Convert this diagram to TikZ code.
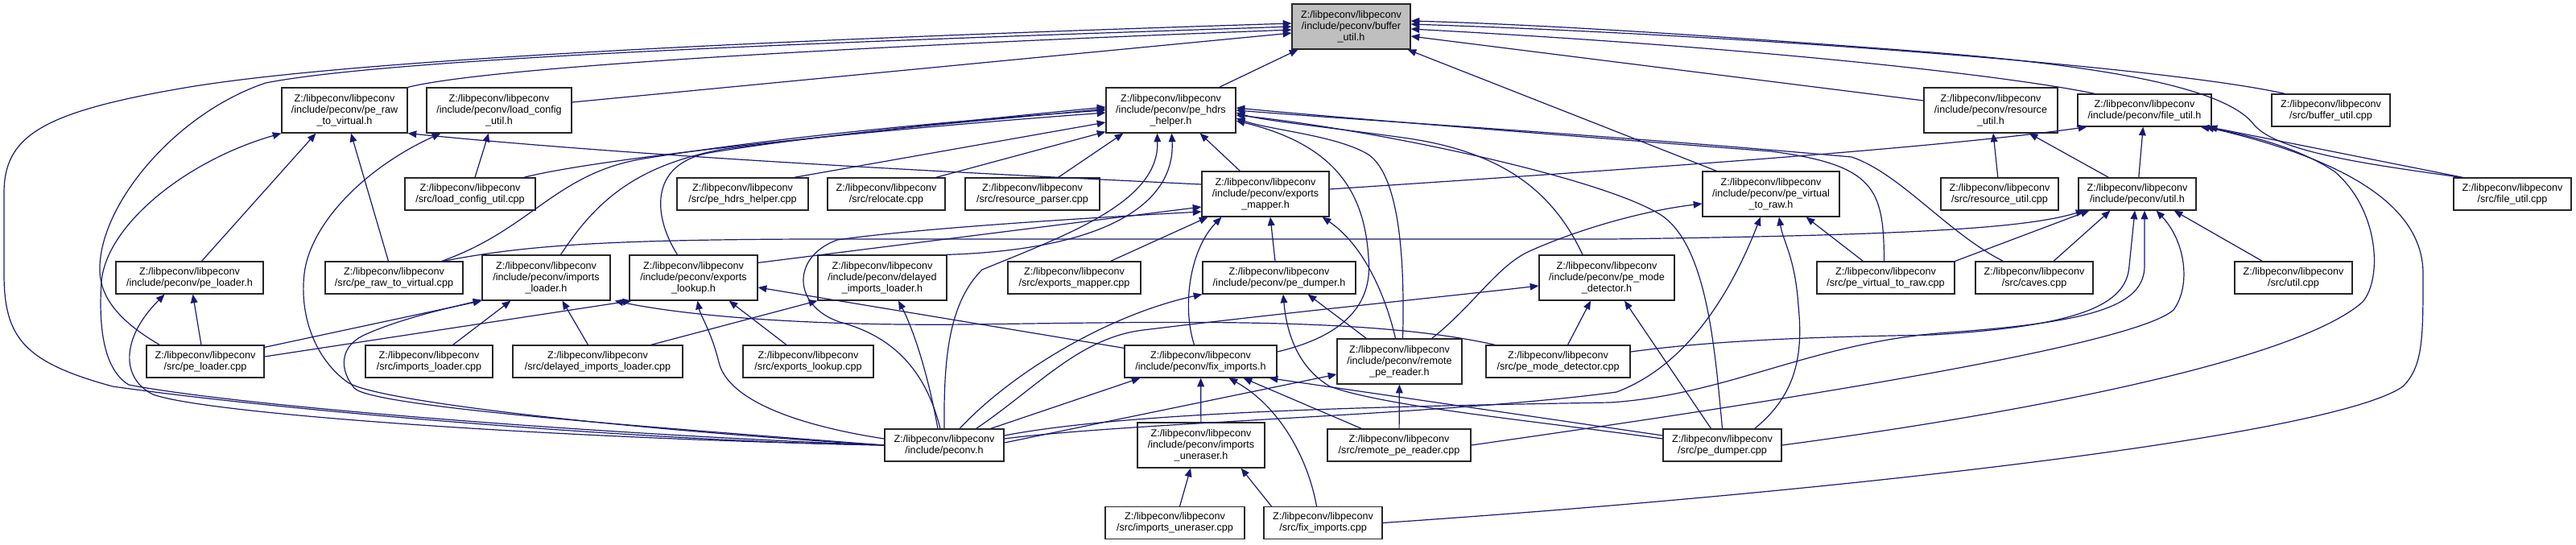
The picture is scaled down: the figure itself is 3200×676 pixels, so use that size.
\documentclass[tikz,border=0pt]{standalone}
\usepackage{fontspec}
\setmainfont{Liberation Sans}
\usetikzlibrary{arrows.meta,calc}
\definecolor{edgec}{RGB}{25,25,112}
\definecolor{boxgray}{RGB}{191,191,191}
\newcommand\zpre{Z:/libpeconv/libpeconv}
\newcommand\dnode[6]{\node[dbox,minimum width=#4*0.75pt,minimum height=#5*0.75pt] (#1) at (#2,#3) {#6};}
\tikzset{
  dbox/.style={draw=black!85, line width=0.9pt, fill=white, inner sep=0pt, align=center,
    font=\fontsize{9.45}{10.5}\selectfont},
  dep/.style={draw=edgec, line width=0.9pt, -{Triangle[length=8pt,width=6.5pt]}}
}
\begin{document}
\begin{tikzpicture}[x=0.75pt,y=-0.75pt]
\fill[white] (0,0) rectangle (3200,676);
\useasboundingbox (0,0) rectangle (3200,676);
% ---------- nodes ----------
\node[dbox,fill=boxgray,minimum width=147*0.75pt,minimum height=56*0.75pt] (bufh) at (1678.5,33) {\zpre\\/include/peconv/buffer\\\_util.h};
\dnode{rawtovh}{428}{137}{156}{56}{\zpre\\/include/peconv/pe\_raw\\\_to\_virtual.h}
\dnode{lcuh}{620}{137}{180}{56}{\zpre\\/include/peconv/load\_config\\\_util.h}
\dnode{hdrsh}{1454.5}{137}{161}{56}{\zpre\\/include/peconv/pe\_hdrs\\\_helper.h}
\dnode{resuh}{2473}{137}{166}{56}{\zpre\\/include/peconv/resource\\\_util.h}
\dnode{fileuh}{2664}{137}{166}{40}{\zpre\\/include/peconv/file\_util.h}
\dnode{bufcpp}{2895.5}{137}{147}{40}{\zpre\\/src/buffer\_util.cpp}
\dnode{lcucpp}{584}{241}{162}{40}{\zpre\\/src/load\_config\_util.cpp}
\dnode{hdrscpp}{922.5}{241}{163}{40}{\zpre\\/src/pe\_hdrs\_helper.cpp}
\dnode{reloccpp}{1101}{241}{146}{40}{\zpre\\/src/relocate.cpp}
\dnode{resparcpp}{1282.5}{241}{167}{40}{\zpre\\/src/resource\_parser.cpp}
\dnode{expmaph}{1572}{241}{158}{56}{\zpre\\/include/peconv/exports\\\_mapper.h}
\dnode{vtorawh}{2200}{241}{170}{56}{\zpre\\/include/peconv/pe\_virtual\\\_to\_raw.h}
\dnode{resucpp}{2484}{241}{146}{40}{\zpre\\/src/resource\_util.cpp}
\dnode{utilh}{2655}{241}{146}{40}{\zpre\\/include/peconv/util.h}
\dnode{fileucpp}{3121}{241}{146}{40}{\zpre\\/src/file\_util.cpp}
\dnode{loaderh}{235.5}{345}{183}{40}{\zpre\\/include/peconv/pe\_loader.h}
\dnode{rawtovcpp}{489.5}{345}{171}{40}{\zpre\\/src/pe\_raw\_to\_virtual.cpp}
\dnode{imploh}{678.5}{345}{159}{56}{\zpre\\/include/peconv/imports\\\_loader.h}
\dnode{explkh}{861.5}{345}{159}{56}{\zpre\\/include/peconv/exports\\\_lookup.h}
\dnode{dimph}{1096}{345}{160}{56}{\zpre\\/include/peconv/delayed\\\_imports\_loader.h}
\dnode{expmapcpp}{1334.5}{345}{165}{40}{\zpre\\/src/exports\_mapper.cpp}
\dnode{dumperh}{1589}{345}{190}{40}{\zpre\\/include/peconv/pe\_dumper.h}
\dnode{modeh}{1996}{345}{168}{56}{\zpre\\/include/peconv/pe\_mode\\\_detector.h}
\dnode{vtorawcpp}{2342.5}{345}{171}{40}{\zpre\\/src/pe\_virtual\_to\_raw.cpp}
\dnode{cavescpp}{2527}{345}{146}{40}{\zpre\\/src/caves.cpp}
\dnode{utilcpp}{2849}{345}{146}{40}{\zpre\\/src/util.cpp}
\dnode{loadercpp}{255}{449}{146}{40}{\zpre\\/src/pe\_loader.cpp}
\dnode{implocpp}{533}{449}{158}{40}{\zpre\\/src/imports\_loader.cpp}
\dnode{dimpcpp}{742.5}{449}{211}{40}{\zpre\\/src/delayed\_imports\_loader.cpp}
\dnode{explkcpp}{1004}{449}{162}{40}{\zpre\\/src/exports\_lookup.cpp}
\dnode{fixh}{1491.5}{449}{189}{40}{\zpre\\/include/peconv/fix\_imports.h}
\dnode{remoteh}{1738.5}{449}{155}{56}{\zpre\\/include/peconv/remote\\\_pe\_reader.h}
\dnode{modecpp}{1935.5}{449}{179}{40}{\zpre\\/src/pe\_mode\_detector.cpp}
\dnode{peconvh}{1173}{553}{148}{40}{\zpre\\/include/peconv.h}
\dnode{unerh}{1492}{553}{158}{56}{\zpre\\/include/peconv/imports\\\_uneraser.h}
\dnode{remotecpp}{1738}{553}{178}{40}{\zpre\\/src/remote\_pe\_reader.cpp}
\dnode{dumpercpp}{2139.5}{553}{147}{40}{\zpre\\/src/pe\_dumper.cpp}
\dnode{unercpp}{1459.5}{649.5}{173}{40}{\zpre\\/src/imports\_uneraser.cpp}
\dnode{fixcpp}{1643.5}{649.5}{147}{40}{\zpre\\/src/fix\_imports.cpp}
% ---------- edges into buffer_util.h ----------
\draw[dep] (peconvh.west) .. controls (800,548) and (350,510) .. (140,480) .. controls (30,450) and (5,420) .. (5,340) -- (5,240) .. controls (5,170) and (50,140) .. (224,110) .. controls (450,70) and (1100,45) .. ($(bufh.west)+(0,-4)$);
\draw[dep] ($(loadercpp.north west)+(17,0)$) .. controls (150,400) and (122,370) .. (124,330) .. controls (127,250) and (220,140) .. (330,103) .. controls (500,70) and (1100,50) .. (bufh.west);
\draw[dep] (rawtovh.north east) .. controls (600,85) and (1000,60) .. ($(bufh.west)+(0,4)$);
\draw[dep] ($(lcuh.east)+(0,-10)$) -- ($(bufh.west)+(0,8)$);
\draw[dep] ($(hdrsh.north)+(60,0)$) -- ($(bufh.south west)+(8,0)$);
\draw[dep] ($(vtorawh.north west)+(18,0)$) -- ($(bufh.south east)+(-4,0)$);
\draw[dep] ($(resuh.west)+(0,-12)$) -- ($(bufh.east)+(0,12)$);
\draw[dep] ($(fileuh.north west)+(22,0)$) .. controls (2500,95) and (2200,60) .. ($(bufh.east)+(0,3)$);
\draw[dep] ($(bufcpp.north west)+(17,0)$) .. controls (2700,85) and (2200,45) .. ($(bufh.east)+(0,-3)$);
\draw[dep] ($(fileucpp.north west)+(10,0)$) .. controls (2950,205) and (2830,190) .. (2800,155) .. controls (2770,115) and (2650,85) .. (2400,65) .. controls (2100,42) and (1900,30) .. ($(bufh.east)+(0,-7)$);
% ---------- resource_util.h, util.h, file_util.h ----------
\draw[dep] (resucpp) -- (resuh);
\draw[dep] ($(utilh.north west)+(38,0)$) -- ($(resuh.south east)+(-36,0)$);
\draw[dep] (utilh) -- (fileuh);
\draw[dep] ($(fileucpp.north west)+(12,0)$) -- ($(fileuh.south east)+(-4,0)$);
\draw[dep] ($(expmaph.east)+(0,-6)$) .. controls (2000,212) and (2400,185) .. ($(fileuh.south west)+(12,0)$);
\draw[dep] (dumpercpp.east) .. controls (2500,515) and (2850,450) .. (2935,375) .. controls (2960,345) and (2955,260) .. (2900,213) .. controls (2850,180) and (2780,165) .. ($(fileuh.south east)+(-14,0)$);
\draw[dep] (fixcpp.east) .. controls (2300,610) and (2900,540) .. (2985,480) .. controls (3010,455) and (3010,420) .. (3010,340) .. controls (3010,250) and (2900,195) .. ($(fileuh.south east)+(-8,0)$);
% ---------- edges into pe_hdrs_helper.h ----------
\draw[dep] ($(hdrscpp.north)+(64,0)$) -- ($(hdrsh.west)+(0,15)$);
\draw[dep] ($(reloccpp.north east)+(-12,0)$) -- ($(hdrsh.south west)+(0,-2)$);
\draw[dep] ($(resparcpp.north)+(32,0)$) -- ($(hdrsh.south west)+(22,0)$);
\draw[dep] ($(expmaph.north west)+(48,0)$) -- ($(hdrsh.south east)+(-45,0)$);
\draw[dep] ($(lcucpp.north east)+(-15,0)$) .. controls (750,195) and (1100,160) .. ($(hdrsh.west)+(0,3)$);
\draw[dep] ($(rawtovcpp.north east)+(-27,0)$) .. controls (660,285) and (690,215) .. (800,197) .. controls (1000,165) and (1250,145) .. (hdrsh.west);
\draw[dep] ($(imploh.north)+(18,0)$) .. controls (740,250) and (790,205) .. (900,185) .. controls (1100,160) and (1250,145) .. ($(hdrsh.west)+(0,-4)$);
\draw[dep] ($(explkh.north)+(-20,0)$) .. controls (812,270) and (805,205) .. (880,190) .. controls (1050,162) and (1250,148) .. ($(hdrsh.west)+(0,-2)$);
\draw[dep] (peconvh.north) .. controls (1172,440) and (1180,375) .. (1220,335) .. controls (1330,290) and (1440,250) .. ($(hdrsh.south)+(-17,0)$);
\draw[dep] ($(dimph.north east)+(-2,0)$) .. controls (1380,310) and (1460,250) .. ($(hdrsh.south)+(1,0)$);
\draw[dep] ($(vtorawcpp.north)+(-2,0)$) .. controls (2340,235) and (2330,205) .. (2200,188) .. controls (1900,165) and (1650,145) .. ($(hdrsh.east)+(0,-3)$);
\draw[dep] ($(cavescpp.north west)+(35,0)$) .. controls (2420,290) and (2360,215) .. (2300,195) .. controls (2000,168) and (1700,150) .. ($(hdrsh.east)+(0,0)$);
\draw[dep] ($(modeh.north)+(-30,0)$) .. controls (1930,240) and (1870,190) .. (1750,172) .. controls (1650,158) and (1570,150) .. ($(hdrsh.east)+(0,3)$);
\draw[dep] (dumpercpp.north) .. controls (2130,430) and (2120,300) .. (2060,265) .. controls (1980,218) and (1700,160) .. ($(hdrsh.east)+(0,6)$);
\draw[dep] ($(remoteh.north)+(4,0)$) .. controls (1745,330) and (1740,220) .. (1700,192) .. controls (1660,168) and (1580,162) .. ($(hdrsh.east)+(0,10)$);
\draw[dep] ($(fixh.east)+(0,-12)$) .. controls (1680,415) and (1705,370) .. (1700,320) .. controls (1695,240) and (1660,180) .. ($(hdrsh.east)+(0,13)$);
% ---------- pe_raw_to_virtual.h, load_config_util.h, pe_loader.h ----------
\draw[dep] (peconvh.west) .. controls (750,540) and (300,505) .. (160,478) .. controls (130,460) and (122,410) .. (126,350) .. controls (132,280) and (230,200) .. (rawtovh.south west);
\draw[dep] ($(loaderh.north)+(15,0)$) -- ($(rawtovh.south west)+(43,0)$);
\draw[dep] ($(rawtovcpp.north)+(-7,0)$) -- ($(rawtovh.south)+(8,0)$);
\draw[dep] ($(expmaph.west)+(0,-12)$) .. controls (1200,215) and (800,195) .. (rawtovh.south east);
\draw[dep] ($(lcucpp.north)+(6,0)$) -- ($(lcuh.south)+(-13,0)$);
\draw[dep] (peconvh.west) .. controls (800,535) and (470,500) .. (432,475) .. controls (390,445) and (372,390) .. (378,340) .. controls (385,280) and (450,210) .. ($(lcuh.south west)+(18,0)$);
\draw[dep] ($(loadercpp.north)+(-5,0)$) -- ($(loaderh.south)+(4,0)$);
\draw[dep] (peconvh.west) .. controls (700,545) and (260,515) .. (190,490) .. controls (150,470) and (150,420) .. ($(loaderh.south)+(-31,0)$);
% ---------- imports_loader.h, exports_lookup.h, delayed ----------
\draw[dep] ($(loadercpp.north east)+(0,3)$) -- (imploh.south west);
\draw[dep] (peconvh.west) .. controls (800,530) and (460,505) .. (440,482) .. controls (422,460) and (420,430) .. (455,415) .. controls (500,395) and (560,382) .. ($(imploh.south west)+(0,-1)$);
\draw[dep] ($(implocpp.north east)+(-50,0)$) -- ($(imploh.south west)+(36,0)$);
\draw[dep] ($(dimpcpp.north)+(-12,0)$) -- ($(imploh.south)+(20,0)$);
\draw[dep] ($(modecpp.north west)+(12,0)$) .. controls (1700,393) and (1450,400) .. (1200,403) .. controls (1000,405) and (850,392) .. ($(imploh.south east)+(5,0)$);
\draw[dep] ($(loadercpp.east)+(0,-6)$) -- ($(explkh.south west)+(3,0)$);
\draw[dep] ($(explkcpp.north)+(-27,0)$) -- ($(explkh.south east)+(-36,0)$);
\draw[dep] ($(fixh.north west)+(0,4)$) -- ($(explkh.east)+(0,12)$);
\draw[dep] ($(peconvh.west)+(0,-8)$) .. controls (1000,530) and (905,500) .. (893,450) .. controls (883,410) and (870,392) .. ($(explkh.south)+(5,0)$);
\draw[dep] ($(peconvh.north)+(-8,0)$) .. controls (1150,450) and (1130,400) .. ($(dimph.south)+(20,0)$);
\draw[dep] ($(dimpcpp.north east)+(-40,0)$) -- (dimph.south west);
% ---------- exports_mapper.h ----------
\draw[dep] ($(explkh.north east)+(0,10)$) -- ($(expmaph.west)+(0,16)$);
\draw[dep] ($(peconvh.north)+(-5,0)$) .. controls (1150,460) and (1110,420) .. (1050,402) .. controls (985,385) and (980,320) .. (1040,298) .. controls (1150,282) and (1400,268) .. ($(expmaph.west)+(0,22)$);
\draw[dep] ($(expmapcpp.north east)+(-38,0)$) -- ($(expmaph.south west)+(8,0)$);
\draw[dep] ($(fixh.north)+(-8,0)$) .. controls (1468,380) and (1478,310) .. ($(expmaph.south west)+(25,0)$);
\draw[dep] ($(dumperh.north)+(-5,0)$) -- ($(expmaph.south)+(6,0)$);
\draw[dep] ($(remoteh.north)+(-5,0)$) .. controls (1722,370) and (1695,305) .. ($(expmaph.south east)+(-9,0)$);
% ---------- util.h ----------
\draw[dep] ($(rawtovcpp.north east)+(-25,0)$) .. controls (650,305) and (750,298) .. (1000,297) -- (2000,297) .. controls (2400,292) and (2520,282) .. ($(utilh.south west)+(8,0)$);
\draw[dep] (vtorawcpp.north east) -- ($(utilh.south west)+(14,0)$);
\draw[dep] ($(cavescpp.north)+(24,0)$) -- ($(utilh.south west)+(40,0)$);
\draw[dep] ($(modecpp.east)+(0,-12)$) .. controls (2150,420) and (2300,418) .. (2400,416) .. controls (2580,405) and (2642,380) .. (2645,330) -- ($(utilh.south)+(-3,0)$);
\draw[dep] ($(peconvh.east)+(0,-12)$) .. controls (1400,512) and (1700,505) .. (2000,500) .. controls (2150,490) and (2250,425) .. (2420,413) .. controls (2600,400) and (2664,380) .. (2664,330) -- ($(utilh.south)+(9,0)$);
\draw[dep] (remotecpp.east) .. controls (2200,500) and (2650,430) .. (2700,385) .. controls (2722,355) and (2715,300) .. ($(utilh.south east)+(-50,0)$);
\draw[dep] ($(utilcpp.north west)+(35,0)$) -- ($(utilh.south east)+(-28,0)$);
% ---------- pe_virtual_to_raw.h ----------
\draw[dep] ($(remoteh.north east)+(-38,0)$) .. controls (1830,380) and (1860,330) .. (1900,312) .. controls (1960,285) and (2040,262) .. ($(vtorawh.west)+(0,12)$);
\draw[dep] ($(peconvh.east)+(0,-8)$) .. controls (1400,525) and (1800,515) .. (2008,487) .. controls (2080,460) and (2140,390) .. ($(vtorawh.south)+(-13,0)$);
\draw[dep] ($(dumpercpp.north east)+(-34,0)$) .. controls (2232,490) and (2240,440) .. (2234,380) .. controls (2230,320) and (2215,300) .. ($(vtorawh.south)+(10,0)$);
\draw[dep] ($(vtorawcpp.north west)+(58,0)$) -- ($(vtorawh.south east)+(-42,0)$);
% ---------- pe_mode_detector.h ----------
\draw[dep] ($(modecpp.north)+(12,0)$) -- ($(modeh.south)+(-20,0)$);
\draw[dep] ($(dumpercpp.north)+(-14,0)$) -- ($(modeh.south)+(22,0)$);
\draw[dep] ($(peconvh.north east)+(-35,0)$) .. controls (1290,480) and (1340,420) .. (1420,410) .. controls (1600,388) and (1800,368) .. ($(modeh.west)+(0,10)$);
% ---------- pe_dumper.h ----------
\draw[dep] ($(peconvh.north)+(19,0)$) .. controls (1260,460) and (1380,390) .. (dumperh.south west);
\draw[dep] ($(remoteh.north west)+(37,0)$) -- ($(dumperh.south east)+(-60,0)$);
\draw[dep] ($(dumpercpp.west)+(0,-8)$) .. controls (1900,522) and (1720,505) .. (1652,480) .. controls (1610,455) and (1598,410) .. ($(dumperh.south)+(5,0)$);
% ---------- remote_pe_reader.h ----------
\draw[dep] (remotecpp) -- (remoteh);
\draw[dep] ($(peconvh.east)+(0,-3)$) -- ($(remoteh.west)+(0,16)$);
% ---------- fix_imports.h ----------
\draw[dep] ($(peconvh.north east)+(-17,0)$) -- ($(fixh.south west)+(20,0)$);
\draw[dep] (unerh) -- (fixh);
\draw[dep] ($(fixcpp.north)+(-8,0)$) .. controls (1625,570) and (1590,505) .. ($(fixh.south)+(35,0)$);
\draw[dep] ($(remotecpp.north west)+(43,0)$) -- ($(fixh.south)+(53,0)$);
\draw[dep] ($(dumpercpp.west)+(0,-12)$) -- ($(fixh.south east)+(-10,0)$);
% ---------- imports_uneraser.h ----------
\draw[dep] ($(unercpp.north)+(6,0)$) -- ($(unerh.south)+(-13,0)$);
\draw[dep] ($(fixcpp.north west)+(10,0)$) -- ($(unerh.south east)+(-30,0)$);
\end{tikzpicture}
\end{document}
